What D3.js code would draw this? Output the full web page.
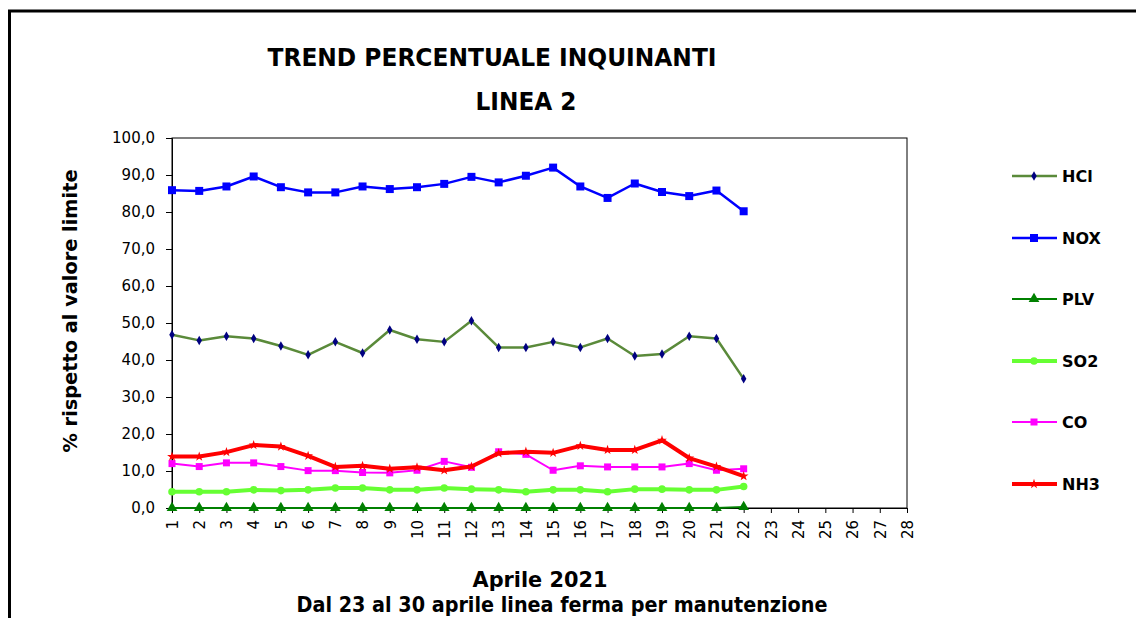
<!DOCTYPE html>
<html>
<head>
<meta charset="utf-8">
<script src="https://cdn.jsdelivr.net/npm/d3@7"></script>
<style>
html,body{margin:0;padding:0;background:#fff;}
svg{display:block;}
text{font-family:"DejaVu Sans",Verdana,sans-serif;fill:#000;}
</style>
</head>
<body>
<svg id="chart" width="1136" height="618"></svg>
<script>
const days = ["1","2","3","4","5","6","7","8","9","10","11","12","13","14","15","16","17","18","19","20","21","22","23","24","25","26","27","28"];
const hcl = [46.8,45.3,46.4,45.8,43.8,41.4,44.9,41.9,48.1,45.6,44.9,50.6,43.4,43.4,44.9,43.4,45.8,41.1,41.6,46.4,45.8,34.9];
const nox = [85.9,85.7,86.9,89.6,86.7,85.3,85.3,86.9,86.2,86.7,87.6,89.5,88.0,89.8,92.0,86.9,83.8,87.7,85.4,84.3,85.8,80.2];
const plv = [0.0,0.0,0.0,0.0,0.0,0.0,0.0,0.0,0.0,0.0,0.0,0.0,0.0,0.0,0.0,0.0,0.0,0.0,0.0,0.0,0.0,0.3];
const so2 = [4.4,4.4,4.4,4.9,4.7,4.9,5.4,5.4,4.9,4.9,5.4,5.1,4.9,4.4,4.9,4.9,4.4,5.1,5.1,4.9,4.9,5.8];
const co  = [12.0,11.2,12.2,12.2,11.2,10.1,10.1,9.6,9.5,10.2,12.6,11.0,15.2,14.5,10.2,11.4,11.1,11.1,11.1,12.0,10.2,10.6];
const nh3 = [13.9,13.9,15.1,17.0,16.6,14.1,11.1,11.4,10.6,11.0,10.2,11.2,14.8,15.2,14.9,16.8,15.7,15.7,18.3,13.5,11.2,8.6];
const yTicks = [0,10,20,30,40,50,60,70,80,90,100];
const seriesNames = ["HCl","NOX","PLV","SO2","CO","NH3"];
const seriesValues = [hcl, nox, plv, so2, co, nh3];

const styles = {
  HCl: {color:"#5a8a3a", width:2.5, marker:"diamond", mcolor:"#000080", msize:26},
  NOX: {color:"#0000ff", width:2.5, marker:"square", mcolor:"#0000ff", msize:64},
  PLV: {color:"#008000", width:2, marker:"triangle", mcolor:"#008000", msize:50},
  SO2: {color:"#66ff33", width:4, marker:"circle", mcolor:"#66ff33", msize:45},
  CO:  {color:"#ff00ff", width:2, marker:"square", mcolor:"#ff00ff", msize:49},
  NH3: {color:"#ff0000", width:4, marker:"star", mcolor:"#ff0000", msize:30}
};
const symbolMap = {diamond:d3.symbolDiamond, square:d3.symbolSquare, triangle:d3.symbolTriangle, circle:d3.symbolCircle, star:d3.symbolStar};

const svg = d3.select("#chart");
const L = 172, R = 907, T = 138, B = 508;
const x = d3.scalePoint().domain(days).range([L, R]);
const y = d3.scaleLinear().domain([0, 100]).range([B, T]);

// outer frame
svg.append("path").attr("d", "M9.5,618 V11 H1136").attr("fill","none").attr("stroke","#000").attr("stroke-width",3);

// titles
svg.append("text").attr("x",492).attr("y",66).attr("text-anchor","middle")
  .attr("font-size",25).attr("font-weight","bold").attr("textLength",449).attr("lengthAdjust","spacingAndGlyphs")
  .text("TREND PERCENTUALE INQUINANTI");
svg.append("text").attr("x",526).attr("y",110).attr("text-anchor","middle")
  .attr("font-size",25).attr("font-weight","bold").attr("textLength",101).attr("lengthAdjust","spacingAndGlyphs")
  .text("LINEA 2");

// plot border
svg.append("rect").attr("x",L).attr("y",T).attr("width",R-L).attr("height",B-T)
  .attr("fill","none").attr("stroke","#000").attr("stroke-width",1);

// y axis
const yAxis = d3.axisLeft(y).tickValues(yTicks).tickSize(6).tickPadding(11)
  .tickFormat(d => d3.format(".1f")(d).replace(".", ","));
const gy = svg.append("g").attr("transform",`translate(${L},0)`).call(yAxis);
gy.attr("font-size",null).attr("font-family",null);
gy.select(".domain").attr("stroke","#000");
gy.selectAll("line").attr("stroke","#000");
gy.selectAll("text").style("font-size","15px").style("font-family","'DejaVu Sans',Verdana,sans-serif").attr("fill","#000");

// x axis
const xAxis = d3.axisBottom(x).tickSize(5).tickPadding(0);
const gx = svg.append("g").attr("transform",`translate(0,${B})`).call(xAxis);
gx.attr("font-size",null).attr("font-family",null);
gx.select(".domain").attr("stroke","#000");
gx.selectAll("line").attr("stroke","#000");
gx.selectAll("text")
  .style("font-size","15px").style("font-family","'DejaVu Sans',Verdana,sans-serif").attr("fill","#000")
  .attr("text-anchor","end").attr("y",0).attr("dy","0.35em")
  .attr("transform","translate(0,12) rotate(-90)");

// y axis title
svg.append("text").attr("transform","translate(70,311) rotate(-90)").attr("text-anchor","middle")
  .attr("dy","0.35em").attr("font-size",19).attr("font-weight","bold")
  .attr("textLength",283).attr("lengthAdjust","spacingAndGlyphs")
  .text("% rispetto al valore limite");

// x axis titles
svg.append("text").attr("x",540).attr("y",587).attr("text-anchor","middle")
  .attr("font-size",22).attr("font-weight","bold").attr("textLength",135).attr("lengthAdjust","spacingAndGlyphs")
  .text("Aprile 2021");
svg.append("text").attr("x",562).attr("y",612).attr("text-anchor","middle")
  .attr("font-size",22).attr("font-weight","bold").attr("textLength",531).attr("lengthAdjust","spacingAndGlyphs")
  .text("Dal 23 al 30 aprile linea ferma per manutenzione");

// series
const line = d3.line().x((d,i) => x(days[i])).y(d => y(d));
seriesNames.forEach((name, k) => {
  const s = styles[name];
  const vals = seriesValues[k];
  const g = svg.append("g");
  g.append("path").datum(vals).attr("d", line).attr("fill","none")
    .attr("stroke", s.color).attr("stroke-width", s.width).attr("stroke-linejoin","round");
  g.selectAll("path.m").data(vals).enter().append("path").attr("class","m")
    .attr("transform",(d,i) => `translate(${x(days[i])},${y(d)})`)
    .attr("d", d3.symbol().type(symbolMap[s.marker]).size(s.msize))
    .attr("fill", s.mcolor);
});

// legend
const legendY = [176, 238, 299, 361, 422, 484];
seriesNames.forEach((name, k) => {
  const s = styles[name];
  const g = svg.append("g").attr("transform",`translate(0,${legendY[k]})`);
  g.append("line").attr("x1",1012).attr("x2",1057).attr("y1",0).attr("y2",0)
    .attr("stroke", s.color).attr("stroke-width", s.width);
  g.append("path").attr("transform","translate(1034,0)")
    .attr("d", d3.symbol().type(symbolMap[s.marker]).size(s.msize)).attr("fill", s.mcolor);
  g.append("text").attr("x",1062).attr("y",0).attr("dy","0.36em")
    .attr("font-size",16).attr("font-weight","bold").text(name);
});
</script>
</body>
</html>
